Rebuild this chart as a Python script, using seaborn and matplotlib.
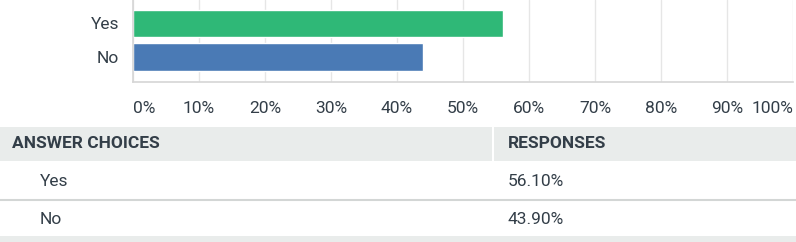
import matplotlib
matplotlib.use("Agg")
import matplotlib.pyplot as plt
import seaborn as sns
import pandas as pd
from matplotlib.patches import Rectangle

categories = ["Yes", "No"]
values = [56.10, 43.90]
bar_colors = ["#2fb877", "#4a7ab5"]
tick_values = [0, 10, 20, 30, 40, 50, 60, 70, 80, 90, 100]
tick_labels = ["0%", "10%", "20%", "30%", "40%", "50%", "60%", "70%", "80%", "90%", "100%"]
header_labels = ["ANSWER CHOICES", "RESPONSES"]
response_labels = ["56.10%", "43.90%"]

sns.set_theme(style="white")
plt.rcParams["font.family"] = ["Roboto", "DejaVu Sans"]

W, H = 796, 242
fig = plt.figure(figsize=(W / 100, H / 100), dpi=100)
fig.patch.set_facecolor("white")

# background axes for the table (pixel coordinates)
bg = fig.add_axes([0, 0, 1, 1])
bg.set_xlim(0, W)
bg.set_ylim(H, 0)
bg.axis("off")

text_color = "#333e48"
fs = 12.5
# header band
bg.add_patch(Rectangle((0, 127), W, 34, facecolor="#e9eceb", edgecolor="none"))
bg.plot([493, 493], [127, 161], color="white", lw=1.5)
bg.text(12, 144, header_labels[0], fontsize=fs, fontweight="bold", color=text_color, va="center", ha="left")
bg.text(508, 144, header_labels[1], fontsize=fs, fontweight="bold", color=text_color, va="center", ha="left")
# rows
row_centers = [182, 219]
for i, (cat, resp) in enumerate(zip(categories, response_labels)):
    bg.text(40, row_centers[i], cat, fontsize=fs, color=text_color, va="center", ha="left")
    bg.text(508, row_centers[i], resp, fontsize=fs, color=text_color, va="center", ha="left")
bg.plot([0, W], [199.5, 199.5], color="#d3d6d5", lw=1.5)
bg.add_patch(Rectangle((0, 236), W, 6, facecolor="#e9eceb", edgecolor="none"))

# bar chart axes
ax = fig.add_axes([133 / W, 1 - 82 / H, 660 / W, 82 / H])
df = pd.DataFrame({"cat": categories, "val": values})
sns.barplot(data=df, x="val", y="cat", hue="cat", palette=bar_colors, order=categories,
            width=0.82, legend=False, ax=ax, saturation=1)
ax.set_xlim(0, 100)
ax.set_ylim(1.746, -0.70)
ax.set_xticks(tick_values)
ax.set_xticklabels(tick_labels)
ax.set_xlabel("")
ax.set_ylabel("")
ax.set_axisbelow(True)
ax.grid(axis="x", color="#e6e6e6", lw=1)
ax.grid(axis="y", visible=False)
for s in ["top", "right"]:
    ax.spines[s].set_visible(False)
for s in ["left", "bottom"]:
    ax.spines[s].set_color("#d6d6d6")
    ax.spines[s].set_linewidth(1.2)
ax.tick_params(axis="x", length=0, pad=14, labelsize=fs, labelcolor=text_color)
ax.tick_params(axis="y", length=0, pad=10, labelsize=fs, labelcolor=text_color)
labs = ax.get_xticklabels()
labs[0].set_ha("left")
labs[-1].set_ha("right")

fig.savefig("out.png", dpi=100, facecolor="white")
